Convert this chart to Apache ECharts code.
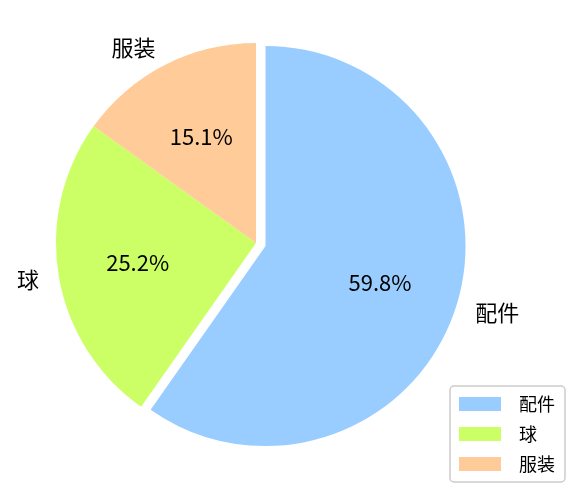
<!DOCTYPE html>
<html>
<head>
<meta charset="utf-8">
<script src="https://cdn.jsdelivr.net/npm/echarts@6/dist/echarts.min.js"></script>
<style>html,body{margin:0;padding:0;background:#fff;}#c{width:582px;height:495px;}</style>
</head>
<body>
<div id="c"></div>
<script>
const categories = ['配件', '球', '服装'];
const values = [59.8, 25.2, 15.1];
const colors = ['#99ccff', '#ccff66', '#ffcc99'];
const explodedIndex = 0;

const chart = echarts.init(document.getElementById('c'), null, {renderer: 'canvas'});

const mainData = categories.map((name, i) => ({
  name: name,
  value: values[i],
  selected: i === explodedIndex,
  itemStyle: {color: colors[i]}
}));
const labelData = categories.map((name, i) => ({
  name: name,
  value: values[i],
  selected: i === explodedIndex
}));

chart.setOption({
  animation: false,
  backgroundColor: '#ffffff',
  legend: {
    data: categories,
    orient: 'vertical',
    left: 450,
    top: 386,
    itemWidth: 42,
    itemHeight: 14,
    itemGap: 12,
    padding: [9, 10, 9, 9],
    borderColor: '#cccccc',
    borderWidth: 1.5,
    borderRadius: 4,
    backgroundColor: '#ffffff',
    icon: 'rect',
    selectedMode: false,
    textStyle: {
      fontFamily: 'Noto Sans CJK SC',
      fontSize: 18,
      color: '#000',
      lineHeight: 14,
      padding: [0, 0, 0, 13]
    }
  },
  series: [
    {
      type: 'pie',
      center: [256, 243],
      radius: 200,
      startAngle: 90,
      clockwise: true,
      selectedMode: 'single',
      selectedOffset: 10,
      avoidLabelOverlap: false,
      silent: true,
      itemStyle: {borderWidth: 0},
      label: {
        show: true,
        position: 'outside',
        alignTo: 'none',
        distanceToLabelLine: 0,
        fontFamily: 'Noto Sans CJK SC',
        fontSize: 22,
        color: '#000',
        formatter: '{b}'
      },
      labelLine: {show: false, length: 20, length2: 0},
      emphasis: {disabled: true},
      data: mainData
    },
    {
      type: 'pie',
      center: [256, 243],
      radius: 234,
      startAngle: 90,
      clockwise: true,
      selectedMode: 'single',
      selectedOffset: 10,
      avoidLabelOverlap: false,
      silent: true,
      itemStyle: {color: 'rgba(0,0,0,0)', borderWidth: 0},
      label: {
        show: true,
        position: 'inner',
        fontFamily: 'Noto Sans CJK SC',
        fontSize: 22,
        color: '#000',
        formatter: p => p.value.toFixed(1) + '%'
      },
      labelLine: {show: false},
      emphasis: {disabled: true},
      data: labelData
    }
  ]
});
</script>
</body>
</html>
